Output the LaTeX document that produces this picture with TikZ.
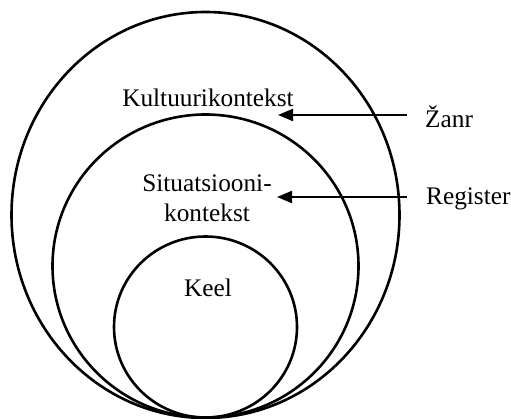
\documentclass[tikz,border=0pt]{standalone}
\usepackage{fontspec}
\setmainfont{Liberation Serif}
\usetikzlibrary{arrows.meta,shapes.geometric}
\begin{document}
\begin{tikzpicture}[x=1pt,y=-1pt,
  ring/.style={draw, line width=2.6pt, ellipse, inner sep=0pt, outer sep=0pt},
  lbl/.style={font=\fontsize{25.3}{30}\selectfont, inner sep=0pt},
  pointer/.style={line width=2.1pt, -{Triangle[length=15pt,width=12pt]}}]
\useasboundingbox (0,0) rectangle (511,419);
% rings
\node[ring, minimum width=388pt, minimum height=406pt] (outer) at (205.5,215) {};
\node[ring, minimum width=306pt, minimum height=303pt] (middle) at (205.5,266) {};
\node[ring, minimum width=183pt, minimum height=181pt] (inner) at (205.5,327) {};
% labels
\node[lbl, anchor=base] (kultuur) at (208,107) {Kultuurikontekst};
\node[lbl, align=center] (situ) at (207,198) {Situatsiooni-\\kontekst};
\node[lbl, anchor=base] (keel) at (208,297) {Keel};
\node[lbl, anchor=base west] (zanr) at (425,128) {Žanr};
\node[lbl, anchor=base west] (register) at (426,205) {Register};
% arrows
\coordinate (zanrtail) at (407,115);
\coordinate (zanrtip) at (278,115);
\coordinate (regtail) at (407,197);
\coordinate (regtip) at (277,197);
\draw[pointer] (zanrtail) -- (zanrtip);
\draw[pointer] (regtail) -- (regtip);
\end{tikzpicture}
\end{document}
